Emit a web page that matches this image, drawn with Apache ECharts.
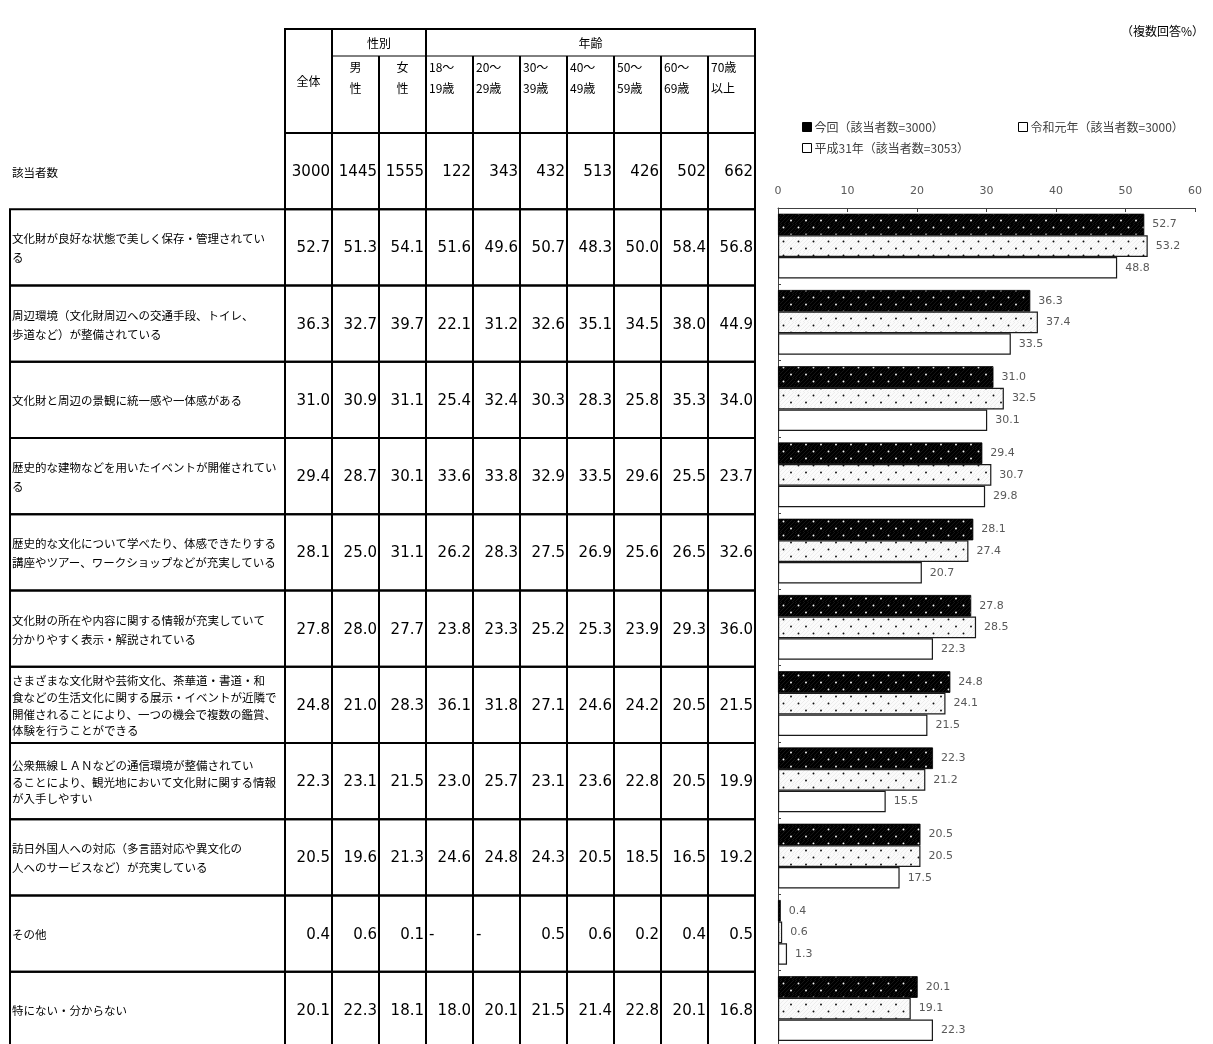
<!DOCTYPE html>
<html><head><meta charset="utf-8">
<script src="https://cdn.jsdelivr.net/npm/echarts@6/dist/echarts.min.js"></script>
<style>html,body{margin:0;padding:0;background:#fff}#c{width:1213px;height:1044px}</style>
</head><body><div id="c"></div>
<script>
// ---------------- DATA ----------------
const categories = [
  '文化財が良好な状態で美しく保存・管理されてい\nる',
  '周辺環境（文化財周辺への交通手段、トイレ、\n歩道など）が整備されている',
  '文化財と周辺の景観に統一感や一体感がある',
  '歴史的な建物などを用いたイベントが開催されてい\nる',
  '歴史的な文化について学べたり、体感できたりする\n講座やツアー、ワークショップなどが充実している',
  '文化財の所在や内容に関する情報が充実していて\n分かりやすく表示・解説されている',
  'さまざまな文化財や芸術文化、茶華道・書道・和\n食などの生活文化に関する展示・イベントが近隣で\n開催されることにより、一つの機会で複数の鑑賞、\n体験を行うことができる',
  '公衆無線ＬＡＮなどの通信環境が整備されてい\nることにより、観光地において文化財に関する情報\nが入手しやすい',
  '訪日外国人への対応（多言語対応や異文化の\n人へのサービスなど）が充実している',
  'その他',
  '特にない・分からない'
];
const sampleLabel = '該当者数';
const columnHeaders = ['全体', '男\n性', '女\n性', '18～\n19歳', '20～\n29歳', '30～\n39歳', '40～\n49歳', '50～\n59歳', '60～\n69歳', '70歳\n以上'];
const groupHeaders = ['性別', '年齢'];
const sampleSizes = [3000, 1445, 1555, 122, 343, 432, 513, 426, 502, 662];
const tableRow1  = [52.7, 51.3, 54.1, 51.6, 49.6, 50.7, 48.3, 50.0, 58.4, 56.8];
const tableRow2  = [36.3, 32.7, 39.7, 22.1, 31.2, 32.6, 35.1, 34.5, 38.0, 44.9];
const tableRow3  = [31.0, 30.9, 31.1, 25.4, 32.4, 30.3, 28.3, 25.8, 35.3, 34.0];
const tableRow4  = [29.4, 28.7, 30.1, 33.6, 33.8, 32.9, 33.5, 29.6, 25.5, 23.7];
const tableRow5  = [28.1, 25.0, 31.1, 26.2, 28.3, 27.5, 26.9, 25.6, 26.5, 32.6];
const tableRow6  = [27.8, 28.0, 27.7, 23.8, 23.3, 25.2, 25.3, 23.9, 29.3, 36.0];
const tableRow7  = [24.8, 21.0, 28.3, 36.1, 31.8, 27.1, 24.6, 24.2, 20.5, 21.5];
const tableRow8  = [22.3, 23.1, 21.5, 23.0, 25.7, 23.1, 23.6, 22.8, 20.5, 19.9];
const tableRow9  = [20.5, 19.6, 21.3, 24.6, 24.8, 24.3, 20.5, 18.5, 16.5, 19.2];
const tableRow10 = [0.4, 0.6, 0.1, null, null, 0.5, 0.6, 0.2, 0.4, 0.5];
const tableRow11 = [20.1, 22.3, 18.1, 18.0, 20.1, 21.5, 21.4, 22.8, 20.1, 16.8];
const seriesNames = ['今回（該当者数=3000）', '令和元年（該当者数=3000）', '平成31年（該当者数=3053）'];
const valuesNow = [52.7, 36.3, 31.0, 29.4, 28.1, 27.8, 24.8, 22.3, 20.5, 0.4, 20.1];
const valuesR1  = [53.2, 37.4, 32.5, 30.7, 27.4, 28.5, 24.1, 21.2, 20.5, 0.6, 19.1];
const valuesH31 = [48.8, 33.5, 30.1, 29.8, 20.7, 22.3, 21.5, 15.5, 17.5, 1.3, 22.3];
const axisMin = 0, axisMax = 60, axisStep = 10;
const unitNote = '（複数回答%）';

// ---------------- LAYOUT ----------------
const JP = '"Noto Sans CJK JP", sans-serif';
const NUM = '"DejaVu Sans", sans-serif';
const TBL_LEFT = 285, COL_W = 47, NCOL = columnHeaders.length;
const TBL_RIGHT = TBL_LEFT + COL_W * NCOL;
const HEAD_TOP = 29, HEAD_MID = 56, HEAD_BOT = 133, ROW_H = 76.25;
const LBL_LEFT = 10;

const tableRows = [sampleSizes, tableRow1, tableRow2, tableRow3, tableRow4, tableRow5, tableRow6,
  tableRow7, tableRow8, tableRow9, tableRow10, tableRow11];
const rowNames = [sampleLabel].concat(categories);

const cellData = [], cellText = [];
tableRows.forEach((row, r) => row.forEach((v, c) => {
  cellData.push([c, r]);
  cellText.push(v === null ? '-' : (r === 0 ? String(v) : v.toFixed(1)));
}));
const labelData = rowNames.map((n, r) => [0, r]);

function makeTile(bg, hatch, dot) {
  const cv = document.createElement('canvas'); cv.width = 15; cv.height = 14;
  const g = cv.getContext('2d');
  g.fillStyle = bg; g.fillRect(0, 0, 15, 14);
  g.strokeStyle = hatch; g.lineWidth = 0.7;
  for (let k = -16; k < 32; k += 4) { g.beginPath(); g.moveTo(k, 14); g.lineTo(k + 14, 0); g.stroke(); }
  g.fillStyle = dot;
  [[3.5, 3.5], [11, 10.5]].forEach(([x, y]) => { g.beginPath(); g.arc(x, y, 0.95, 0, Math.PI * 2); g.fill(); });
  return cv;
}
const patBlack = makeTile('#000', '#1e1e1e', '#f4f4f4');
const patGrey = makeTile('#fbfbfb', '#e6e6e6', '#111');

// header graphics
const gfx = [];
function line(x1, y1, x2, y2, w) {
  gfx.push({ type: 'line', silent: true, shape: { x1, y1, x2, y2 }, style: { stroke: '#000', lineWidth: w || 2 } });
}
function text(t, x, y, align, font, lh) {
  gfx.push({ type: 'text', silent: true, style: { text: t, x, y, align: align, verticalAlign: 'middle', font: font, fill: '#000', lineHeight: lh || 21 } });
}
line(TBL_LEFT - 1, HEAD_TOP, TBL_RIGHT + 1, HEAD_TOP);
[0, 1, 3, NCOL].forEach(k => line(TBL_LEFT + COL_W * k, HEAD_TOP, TBL_LEFT + COL_W * k, HEAD_BOT));
for (let k = 2; k < NCOL; k++) if (k !== 3) line(TBL_LEFT + COL_W * k, HEAD_MID, TBL_LEFT + COL_W * k, HEAD_BOT);
line(TBL_LEFT + COL_W, HEAD_MID, TBL_RIGHT, HEAD_MID, 1);
text(groupHeaders[0], TBL_LEFT + COL_W * 2, 43, 'center', '12px ' + JP);
text(groupHeaders[1], TBL_LEFT + COL_W * 6.5, 43, 'center', '12px ' + JP);
columnHeaders.forEach((h, k) => {
  if (k === 0) text(h, TBL_LEFT + COL_W * 0.5, 81, 'center', '12px ' + JP);
  else if (k < 3) text(h, TBL_LEFT + COL_W * (k + 0.5), 77.5, 'center', '12px ' + JP);
  else text(h, TBL_LEFT + COL_W * k + 3, 77.5, 'left', '12px ' + JP);
});
text(unitNote, 1204, 31, 'right', '12px ' + JP);

const legendItem = (i, left, top, fill) => ({
  left: left, top: top, orient: 'horizontal', itemWidth: 9, itemHeight: 9, itemGap: 4,
  icon: 'rect', selectedMode: false,
  textStyle: { fontSize: 12, color: '#404040', fontFamily: JP, padding: [0, 0, 0, -2] },
  data: [{ name: seriesNames[i], itemStyle: { color: fill, borderColor: '#000', borderWidth: 1 } }]
});

const barLabel = {
  show: true, position: 'right', distance: 8, color: '#595959', fontSize: 11, fontFamily: NUM,
  formatter: p => p.value.toFixed(1)
};

const chart = echarts.init(document.getElementById('c'), null, { renderer: 'canvas' });
chart.setOption({
  animation: false,
  backgroundColor: '#fff',
  legend: [
    legendItem(0, 797, 116, '#000'),
    legendItem(1, 1013, 116, '#fff'),
    legendItem(2, 797, 137, '#fff')
  ],
  grid: [
    { left: 778, top: 208, width: 417, height: ROW_H * categories.length, outerBoundsMode: 'none', containLabel: false },
    { left: TBL_LEFT, top: HEAD_BOT, width: COL_W * NCOL, height: ROW_H * rowNames.length, outerBoundsMode: 'none', containLabel: false }
  ],
  xAxis: [
    { gridIndex: 0, type: 'value', position: 'top', min: axisMin, max: axisMax, interval: axisStep,
      splitLine: { show: false },
      axisLine: { show: true, lineStyle: { color: '#404040', width: 1 } },
      axisTick: { show: true, inside: true, length: 4, lineStyle: { color: '#404040' } },
      axisLabel: { color: '#595959', fontSize: 11, fontFamily: NUM, margin: 11 } },
    { gridIndex: 1, type: 'category', data: columnHeaders, show: false }
  ],
  yAxis: [
    { gridIndex: 0, type: 'category', data: categories, inverse: true,
      axisLine: { show: true, lineStyle: { color: '#404040', width: 1 } },
      axisTick: { show: true, inside: true, length: 3, lineStyle: { color: '#404040' } },
      axisLabel: { show: false }, splitLine: { show: false } },
    { gridIndex: 1, type: 'category', data: rowNames, inverse: true, show: false }
  ],
  series: [
    { type: 'bar', name: seriesNames[0], xAxisIndex: 0, yAxisIndex: 0, data: valuesNow,
      barGap: '0%', barCategoryGap: '15%',
      itemStyle: { color: { image: patBlack, repeat: 'repeat' }, borderColor: '#000', borderWidth: 0.8 },
      label: barLabel },
    { type: 'bar', name: seriesNames[1], xAxisIndex: 0, yAxisIndex: 0, data: valuesR1,
      barGap: '0%', barCategoryGap: '15%',
      itemStyle: { color: { image: patGrey, repeat: 'repeat' }, borderColor: '#1a1a1a', borderWidth: 1.2 },
      label: barLabel },
    { type: 'bar', name: seriesNames[2], xAxisIndex: 0, yAxisIndex: 0, data: valuesH31,
      barGap: '0%', barCategoryGap: '15%',
      itemStyle: { color: '#fff', borderColor: '#1a1a1a', borderWidth: 1.2 },
      label: barLabel },
    { type: 'custom', xAxisIndex: 1, yAxisIndex: 1, data: cellData, silent: true, clip: false,
      renderItem: (params, api) => {
        const p = api.coord([api.value(0), api.value(1)]);
        const s = api.size([1, 1]);
        const x0 = p[0] - s[0] / 2, y0 = p[1] - s[1] / 2;
        const t = cellText[params.dataIndex];
        const isDash = t === '-';
        return { type: 'group', children: [
          { type: 'rect', shape: { x: x0, y: y0, width: s[0], height: s[1] },
            style: { fill: 'none', stroke: '#000', lineWidth: 2 } },
          { type: 'text', style: { text: t, x: isDash ? x0 + 3 : x0 + s[0] - 2, y: p[1] + 1,
            align: isDash ? 'left' : 'right', verticalAlign: 'middle', font: '15px ' + NUM, fill: '#000' } }
        ] };
      } },
    { type: 'custom', xAxisIndex: 1, yAxisIndex: 1, data: labelData, silent: true, clip: false,
      renderItem: (params, api) => {
        const r = api.value(1);
        const p = api.coord([0, r]);
        const s = api.size([1, 1]);
        const y0 = p[1] - s[1] / 2;
        const name = rowNames[params.dataIndex];
        const nLines = name.split('\n').length;
        const children = [];
        if (r > 0) children.push({ type: 'rect', shape: { x: LBL_LEFT, y: y0, width: TBL_LEFT - LBL_LEFT, height: s[1] },
          style: { fill: 'none', stroke: '#000', lineWidth: 2 } });
        children.push({ type: 'text', style: { text: name, x: LBL_LEFT + 2, y: p[1] + 1, align: 'left', verticalAlign: 'middle',
          font: '11.5px ' + JP, fill: '#000', lineHeight: nLines > 2 ? 16.7 : 19 } });
        return { type: 'group', children: children };
      } }
  ],
  graphic: { elements: gfx }
});
</script></body></html>
